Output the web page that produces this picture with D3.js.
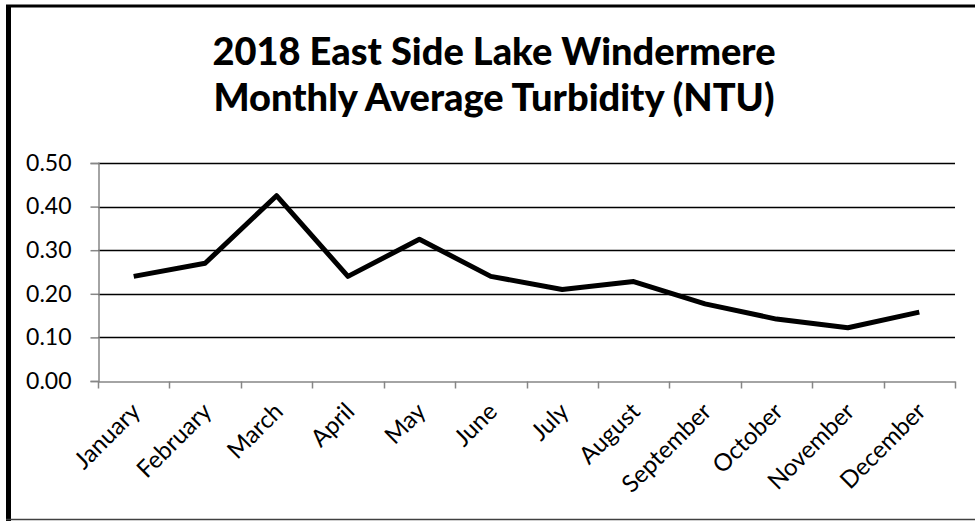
<!DOCTYPE html>
<html>
<head>
<meta charset="utf-8">
<script src="https://cdn.jsdelivr.net/npm/d3@7"></script>
<style>
	body { margin: 0; background: #fff; }
	svg { display: block; font-family: Lato, "Liberation Sans", sans-serif; }
</style>
</head>
<body>
<svg id="chart" width="975" height="521"></svg>
<script>
var months = ['January','February','March','April','May','June','July','August','September','October','November','December'];
var turbidity = [0.24, 0.27, 0.425, 0.24, 0.325, 0.24, 0.21, 0.228, 0.177, 0.142, 0.122, 0.158];
var yTicks = [0, 0.1, 0.2, 0.3, 0.4, 0.5];
var titleLines = ['2018 East Side Lake Windermere', 'Monthly Average Turbidity (NTU)'];

var svg = d3.select('#chart');

// frame
svg.append('line').attr('x1', 8.5).attr('x2', 8.5).attr('y1', 5).attr('y2', 521)
	.attr('stroke', '#000').attr('stroke-width', 5);
svg.append('line').attr('x1', 6).attr('x2', 975).attr('y1', 6).attr('y2', 6)
	.attr('stroke', '#000').attr('stroke-width', 3);
svg.append('line').attr('x1', 6).attr('x2', 975).attr('y1', 519.5).attr('y2', 519.5)
	.attr('stroke', '#404040').attr('stroke-width', 1.5);

// title
svg.selectAll('text.title')
	.data(titleLines)
	.enter()
	.append('text')
	.attr('class', 'title')
	.attr('x', 494)
	.attr('y', function(d, i) { return 65 + i * 46; })
	.attr('text-anchor', 'middle')
	.style('font-weight', '900')
	.style('font-size', '38px')
	.text(function(d) { return d; });

var x = d3.scaleBand().domain(months).range([98, 955]);
var y = d3.scaleLinear().domain([0, 0.5]).range([381, 163]);

// gridlines
svg.append('g')
	.selectAll('line')
	.data(yTicks.slice(1))
	.enter()
	.append('line')
	.attr('x1', 98).attr('x2', 955)
	.attr('y1', function(d) { return Math.round(y(d)) + 0.5; })
	.attr('y2', function(d) { return Math.round(y(d)) + 0.5; })
	.attr('stroke', '#000')
	.attr('stroke-width', 1.5);

// y axis
var yAxis = svg.append('g')
	.attr('transform', 'translate(98.5,0)')
	.call(d3.axisLeft(y).tickValues(yTicks).tickFormat(d3.format('.2f')).tickSize(8).tickPadding(19));
yAxis.select('.domain').attr('stroke', '#868686').attr('stroke-width', 1.5);
yAxis.selectAll('.tick line').attr('stroke', '#868686').attr('stroke-width', 1.5);
yAxis.selectAll('.tick text').style('font-size', '23px').style('font-family', 'Lato').attr('fill', '#000');

// x axis
var xAxis = svg.append('g')
	.attr('transform', 'translate(0,381.5)')
	.call(d3.axisBottom(x).tickSize(0).tickFormat(''));
xAxis.select('.domain').attr('stroke', '#868686').attr('stroke-width', 1.5);
xAxis.selectAll('.tick').remove();

var bounds = months.map(function(m) { return x(m); }).concat([955]);
xAxis.selectAll('line.tk')
	.data(bounds)
	.enter()
	.append('line')
	.attr('class', 'tk')
	.attr('x1', function(d) { return Math.round(d) + 0.5; })
	.attr('x2', function(d) { return Math.round(d) + 0.5; })
	.attr('y1', 0).attr('y2', 7)
	.attr('stroke', '#868686').attr('stroke-width', 1.5);

svg.append('g')
	.selectAll('text')
	.data(months)
	.enter()
	.append('text')
	.attr('transform', function(d) {
		return 'translate(' + (x(d) + x.bandwidth() / 2 + 2) + ',' + 407 + ') rotate(-45)';
	})
	.attr('text-anchor', 'end')
	.attr('dy', '0.35em')
	.style('font-size', '24px')
	.text(function(d) { return d; });

// line
var line = d3.line()
	.x(function(d, i) { return x(months[i]) + x.bandwidth() / 2; })
	.y(function(d) { return y(d); });

svg.append('path')
	.datum(turbidity)
	.attr('d', line)
	.attr('fill', 'none')
	.attr('stroke', '#000')
	.attr('stroke-width', 5)
	.attr('stroke-linejoin', 'round');
</script>
</body>
</html>
